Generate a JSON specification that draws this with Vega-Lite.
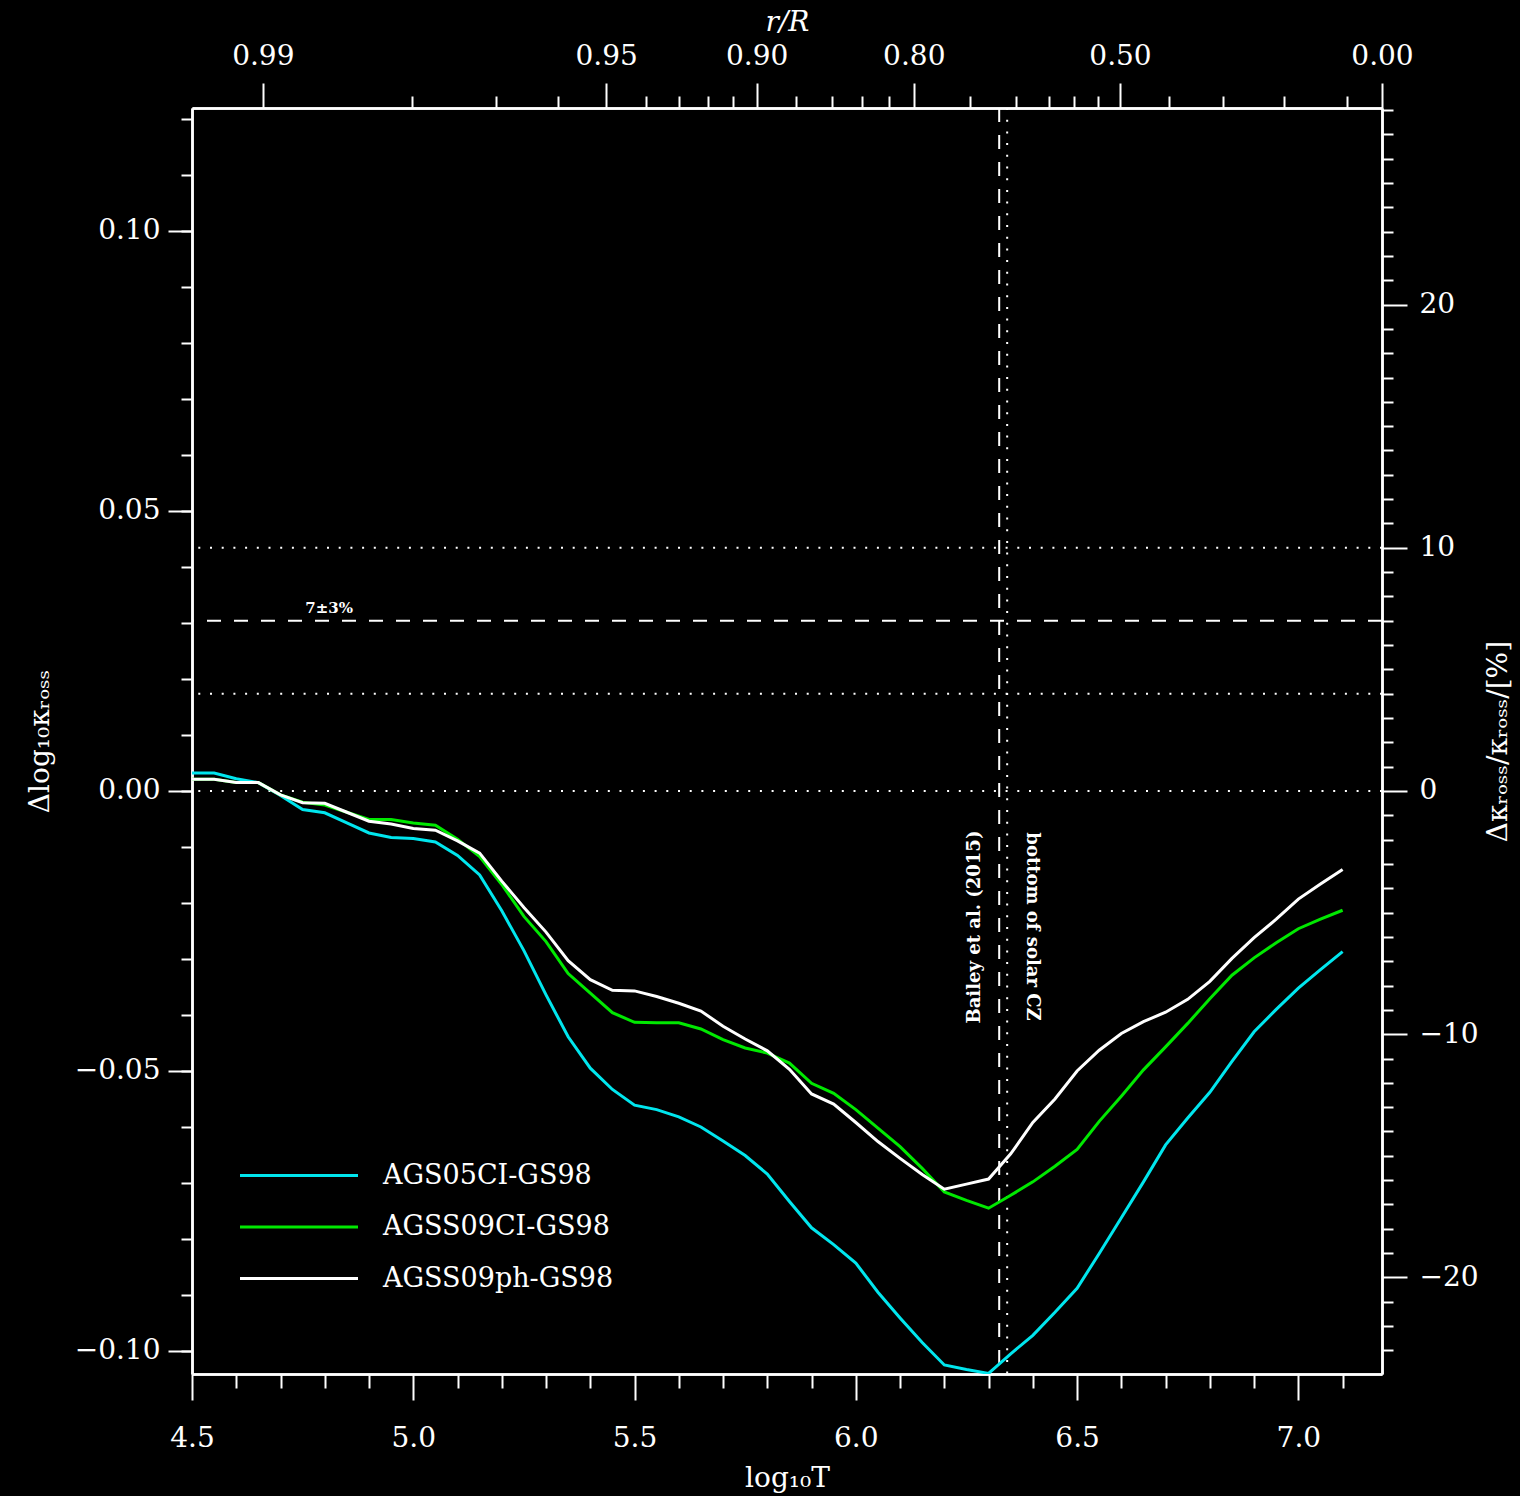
{
"$schema": "https://vega.github.io/schema/vega-lite/v6.json",
"width": 1190, "height": 1266,
"autosize": {"type": "none"},
"padding": {"left": 192, "top": 108, "right": 138, "bottom": 122},
"background": "black",
"config": {
  "view": {"stroke": null},
  "axis": {"grid": false, "domainColor": "white", "domainWidth": 2.5, "tickColor": "white", "tickWidth": 2, "labelColor": "white", "titleColor": "white", "labelFont": "DejaVu Serif", "titleFont": "DejaVu Serif", "labelFontSize": 28, "titleFontSize": 28, "titleFontWeight": "normal", "labelFlush": false, "labelOverlap": false}
},
"datasets": {
  "curves": [
{"logT":4.50,"series":"AGS05CI-GS98","dlogk":0.0032},{"logT":4.55,"series":"AGS05CI-GS98","dlogk":0.0032},{"logT":4.60,"series":"AGS05CI-GS98","dlogk":0.0022},{"logT":4.65,"series":"AGS05CI-GS98","dlogk":0.0015},{"logT":4.70,"series":"AGS05CI-GS98","dlogk":-0.0008},{"logT":4.75,"series":"AGS05CI-GS98","dlogk":-0.0033},{"logT":4.80,"series":"AGS05CI-GS98","dlogk":-0.0039},{"logT":4.85,"series":"AGS05CI-GS98","dlogk":-0.0057},{"logT":4.90,"series":"AGS05CI-GS98","dlogk":-0.0075},{"logT":4.95,"series":"AGS05CI-GS98","dlogk":-0.0083},{"logT":5.00,"series":"AGS05CI-GS98","dlogk":-0.0085},{"logT":5.05,"series":"AGS05CI-GS98","dlogk":-0.0091},{"logT":5.10,"series":"AGS05CI-GS98","dlogk":-0.0115},{"logT":5.15,"series":"AGS05CI-GS98","dlogk":-0.0150},{"logT":5.20,"series":"AGS05CI-GS98","dlogk":-0.0214},{"logT":5.25,"series":"AGS05CI-GS98","dlogk":-0.0285},{"logT":5.30,"series":"AGS05CI-GS98","dlogk":-0.0364},{"logT":5.35,"series":"AGS05CI-GS98","dlogk":-0.0439},{"logT":5.40,"series":"AGS05CI-GS98","dlogk":-0.0495},{"logT":5.45,"series":"AGS05CI-GS98","dlogk":-0.0533},{"logT":5.50,"series":"AGS05CI-GS98","dlogk":-0.0561},{"logT":5.55,"series":"AGS05CI-GS98","dlogk":-0.0569},{"logT":5.60,"series":"AGS05CI-GS98","dlogk":-0.0582},{"logT":5.65,"series":"AGS05CI-GS98","dlogk":-0.0600},{"logT":5.70,"series":"AGS05CI-GS98","dlogk":-0.0625},{"logT":5.75,"series":"AGS05CI-GS98","dlogk":-0.0651},{"logT":5.80,"series":"AGS05CI-GS98","dlogk":-0.0684},{"logT":5.85,"series":"AGS05CI-GS98","dlogk":-0.0733},{"logT":5.90,"series":"AGS05CI-GS98","dlogk":-0.0780},{"logT":5.95,"series":"AGS05CI-GS98","dlogk":-0.0810},{"logT":6.00,"series":"AGS05CI-GS98","dlogk":-0.0843},{"logT":6.05,"series":"AGS05CI-GS98","dlogk":-0.0895},{"logT":6.10,"series":"AGS05CI-GS98","dlogk":-0.0941},{"logT":6.15,"series":"AGS05CI-GS98","dlogk":-0.0985},{"logT":6.20,"series":"AGS05CI-GS98","dlogk":-0.1025},{"logT":6.25,"series":"AGS05CI-GS98","dlogk":-0.1033},{"logT":6.30,"series":"AGS05CI-GS98","dlogk":-0.1040},{"logT":6.35,"series":"AGS05CI-GS98","dlogk":-0.1005},{"logT":6.40,"series":"AGS05CI-GS98","dlogk":-0.0972},{"logT":6.45,"series":"AGS05CI-GS98","dlogk":-0.0931},{"logT":6.50,"series":"AGS05CI-GS98","dlogk":-0.0888},{"logT":6.55,"series":"AGS05CI-GS98","dlogk":-0.0826},{"logT":6.60,"series":"AGS05CI-GS98","dlogk":-0.0762},{"logT":6.65,"series":"AGS05CI-GS98","dlogk":-0.0698},{"logT":6.70,"series":"AGS05CI-GS98","dlogk":-0.0632},{"logT":6.75,"series":"AGS05CI-GS98","dlogk":-0.0584},{"logT":6.80,"series":"AGS05CI-GS98","dlogk":-0.0538},{"logT":6.85,"series":"AGS05CI-GS98","dlogk":-0.0483},{"logT":6.90,"series":"AGS05CI-GS98","dlogk":-0.0430},{"logT":6.95,"series":"AGS05CI-GS98","dlogk":-0.0390},{"logT":7.00,"series":"AGS05CI-GS98","dlogk":-0.0352},{"logT":7.05,"series":"AGS05CI-GS98","dlogk":-0.0319},{"logT":7.10,"series":"AGS05CI-GS98","dlogk":-0.0287},
{"logT":4.50,"series":"AGSS09CI-GS98","dlogk":0.0021},{"logT":4.55,"series":"AGSS09CI-GS98","dlogk":0.0021},{"logT":4.60,"series":"AGSS09CI-GS98","dlogk":0.0015},{"logT":4.65,"series":"AGSS09CI-GS98","dlogk":0.0015},{"logT":4.70,"series":"AGSS09CI-GS98","dlogk":-0.0007},{"logT":4.75,"series":"AGSS09CI-GS98","dlogk":-0.0020},{"logT":4.80,"series":"AGSS09CI-GS98","dlogk":-0.0025},{"logT":4.85,"series":"AGSS09CI-GS98","dlogk":-0.0038},{"logT":4.90,"series":"AGSS09CI-GS98","dlogk":-0.0051},{"logT":4.95,"series":"AGSS09CI-GS98","dlogk":-0.0051},{"logT":5.00,"series":"AGSS09CI-GS98","dlogk":-0.0057},{"logT":5.05,"series":"AGSS09CI-GS98","dlogk":-0.0061},{"logT":5.10,"series":"AGSS09CI-GS98","dlogk":-0.0086},{"logT":5.15,"series":"AGSS09CI-GS98","dlogk":-0.0117},{"logT":5.20,"series":"AGSS09CI-GS98","dlogk":-0.0167},{"logT":5.25,"series":"AGSS09CI-GS98","dlogk":-0.0224},{"logT":5.30,"series":"AGSS09CI-GS98","dlogk":-0.0269},{"logT":5.35,"series":"AGSS09CI-GS98","dlogk":-0.0326},{"logT":5.40,"series":"AGSS09CI-GS98","dlogk":-0.0361},{"logT":5.45,"series":"AGSS09CI-GS98","dlogk":-0.0396},{"logT":5.50,"series":"AGSS09CI-GS98","dlogk":-0.0413},{"logT":5.55,"series":"AGSS09CI-GS98","dlogk":-0.0414},{"logT":5.60,"series":"AGSS09CI-GS98","dlogk":-0.0414},{"logT":5.65,"series":"AGSS09CI-GS98","dlogk":-0.0425},{"logT":5.70,"series":"AGSS09CI-GS98","dlogk":-0.0444},{"logT":5.75,"series":"AGSS09CI-GS98","dlogk":-0.0459},{"logT":5.80,"series":"AGSS09CI-GS98","dlogk":-0.0468},{"logT":5.85,"series":"AGSS09CI-GS98","dlogk":-0.0486},{"logT":5.90,"series":"AGSS09CI-GS98","dlogk":-0.0522},{"logT":5.95,"series":"AGSS09CI-GS98","dlogk":-0.0540},{"logT":6.00,"series":"AGSS09CI-GS98","dlogk":-0.0569},{"logT":6.05,"series":"AGSS09CI-GS98","dlogk":-0.0602},{"logT":6.10,"series":"AGSS09CI-GS98","dlogk":-0.0635},{"logT":6.15,"series":"AGSS09CI-GS98","dlogk":-0.0674},{"logT":6.20,"series":"AGSS09CI-GS98","dlogk":-0.0716},{"logT":6.25,"series":"AGSS09CI-GS98","dlogk":-0.0731},{"logT":6.30,"series":"AGSS09CI-GS98","dlogk":-0.0745},{"logT":6.35,"series":"AGSS09CI-GS98","dlogk":-0.0722},{"logT":6.40,"series":"AGSS09CI-GS98","dlogk":-0.0698},{"logT":6.45,"series":"AGSS09CI-GS98","dlogk":-0.0670},{"logT":6.50,"series":"AGSS09CI-GS98","dlogk":-0.0640},{"logT":6.55,"series":"AGSS09CI-GS98","dlogk":-0.0590},{"logT":6.60,"series":"AGSS09CI-GS98","dlogk":-0.0545},{"logT":6.65,"series":"AGSS09CI-GS98","dlogk":-0.0498},{"logT":6.70,"series":"AGSS09CI-GS98","dlogk":-0.0457},{"logT":6.75,"series":"AGSS09CI-GS98","dlogk":-0.0415},{"logT":6.80,"series":"AGSS09CI-GS98","dlogk":-0.0371},{"logT":6.85,"series":"AGSS09CI-GS98","dlogk":-0.0329},{"logT":6.90,"series":"AGSS09CI-GS98","dlogk":-0.0298},{"logT":6.95,"series":"AGSS09CI-GS98","dlogk":-0.0271},{"logT":7.00,"series":"AGSS09CI-GS98","dlogk":-0.0246},{"logT":7.05,"series":"AGSS09CI-GS98","dlogk":-0.0229},{"logT":7.10,"series":"AGSS09CI-GS98","dlogk":-0.0213},
{"logT":4.50,"series":"AGSS09ph-GS98","dlogk":0.0021},{"logT":4.55,"series":"AGSS09ph-GS98","dlogk":0.0021},{"logT":4.60,"series":"AGSS09ph-GS98","dlogk":0.0015},{"logT":4.65,"series":"AGSS09ph-GS98","dlogk":0.0015},{"logT":4.70,"series":"AGSS09ph-GS98","dlogk":-0.0007},{"logT":4.75,"series":"AGSS09ph-GS98","dlogk":-0.0021},{"logT":4.80,"series":"AGSS09ph-GS98","dlogk":-0.0022},{"logT":4.85,"series":"AGSS09ph-GS98","dlogk":-0.0038},{"logT":4.90,"series":"AGSS09ph-GS98","dlogk":-0.0054},{"logT":4.95,"series":"AGSS09ph-GS98","dlogk":-0.0059},{"logT":5.00,"series":"AGSS09ph-GS98","dlogk":-0.0067},{"logT":5.05,"series":"AGSS09ph-GS98","dlogk":-0.0070},{"logT":5.10,"series":"AGSS09ph-GS98","dlogk":-0.0089},{"logT":5.15,"series":"AGSS09ph-GS98","dlogk":-0.0111},{"logT":5.20,"series":"AGSS09ph-GS98","dlogk":-0.0161},{"logT":5.25,"series":"AGSS09ph-GS98","dlogk":-0.0208},{"logT":5.30,"series":"AGSS09ph-GS98","dlogk":-0.0252},{"logT":5.35,"series":"AGSS09ph-GS98","dlogk":-0.0303},{"logT":5.40,"series":"AGSS09ph-GS98","dlogk":-0.0337},{"logT":5.45,"series":"AGSS09ph-GS98","dlogk":-0.0356},{"logT":5.50,"series":"AGSS09ph-GS98","dlogk":-0.0357},{"logT":5.55,"series":"AGSS09ph-GS98","dlogk":-0.0367},{"logT":5.60,"series":"AGSS09ph-GS98","dlogk":-0.0379},{"logT":5.65,"series":"AGSS09ph-GS98","dlogk":-0.0393},{"logT":5.70,"series":"AGSS09ph-GS98","dlogk":-0.0420},{"logT":5.75,"series":"AGSS09ph-GS98","dlogk":-0.0443},{"logT":5.80,"series":"AGSS09ph-GS98","dlogk":-0.0464},{"logT":5.85,"series":"AGSS09ph-GS98","dlogk":-0.0497},{"logT":5.90,"series":"AGSS09ph-GS98","dlogk":-0.0541},{"logT":5.95,"series":"AGSS09ph-GS98","dlogk":-0.0559},{"logT":6.00,"series":"AGSS09ph-GS98","dlogk":-0.0592},{"logT":6.05,"series":"AGSS09ph-GS98","dlogk":-0.0626},{"logT":6.10,"series":"AGSS09ph-GS98","dlogk":-0.0656},{"logT":6.15,"series":"AGSS09ph-GS98","dlogk":-0.0685},{"logT":6.20,"series":"AGSS09ph-GS98","dlogk":-0.0711},{"logT":6.25,"series":"AGSS09ph-GS98","dlogk":-0.0702},{"logT":6.30,"series":"AGSS09ph-GS98","dlogk":-0.0693},{"logT":6.35,"series":"AGSS09ph-GS98","dlogk":-0.0648},{"logT":6.40,"series":"AGSS09ph-GS98","dlogk":-0.0592},{"logT":6.45,"series":"AGSS09ph-GS98","dlogk":-0.0550},{"logT":6.50,"series":"AGSS09ph-GS98","dlogk":-0.0500},{"logT":6.55,"series":"AGSS09ph-GS98","dlogk":-0.0463},{"logT":6.60,"series":"AGSS09ph-GS98","dlogk":-0.0433},{"logT":6.65,"series":"AGSS09ph-GS98","dlogk":-0.0412},{"logT":6.70,"series":"AGSS09ph-GS98","dlogk":-0.0395},{"logT":6.75,"series":"AGSS09ph-GS98","dlogk":-0.0372},{"logT":6.80,"series":"AGSS09ph-GS98","dlogk":-0.0340},{"logT":6.85,"series":"AGSS09ph-GS98","dlogk":-0.0299},{"logT":6.90,"series":"AGSS09ph-GS98","dlogk":-0.0262},{"logT":6.95,"series":"AGSS09ph-GS98","dlogk":-0.0229},{"logT":7.00,"series":"AGSS09ph-GS98","dlogk":-0.0193},{"logT":7.05,"series":"AGSS09ph-GS98","dlogk":-0.0166},{"logT":7.10,"series":"AGSS09ph-GS98","dlogk":-0.0140}
  ],
  "hlines": [
    {"pct": 10, "dlogk": 0.043429, "style": "dotted"},
    {"pct": 7, "dlogk": 0.030401, "style": "dashed"},
    {"pct": 4, "dlogk": 0.017372, "style": "dotted"},
    {"pct": 0, "dlogk": 0.0, "style": "dotted"}
  ],
  "vlines": [
    {"what": "Bailey et al. (2015)", "logT": 6.324, "style": "dashed"},
    {"what": "bottom of solar CZ", "logT": 6.342, "style": "dotted"}
  ]
},
"layer": [
  {
    "data": {"name": "hlines"},
    "mark": {"type": "rule", "color": "white", "strokeWidth": 2},
    "encoding": {
      "y": {"field": "dlogk", "type": "quantitative", "scale": {"domain": [-0.10411, 0.12196], "nice": false, "zero": false}, "axis": null},
      "strokeDash": {"field": "style", "type": "nominal", "scale": {"domain": ["dotted", "dashed"], "range": [[2, 9.7], [14, 13]]}, "legend": null}
    }
  },
  {
    "data": {"name": "vlines"},
    "mark": {"type": "rule", "color": "white", "strokeWidth": 2},
    "encoding": {
      "x": {"field": "logT", "type": "quantitative", "scale": {"domain": [4.5, 7.189], "nice": false, "zero": false}, "axis": null},
      "strokeDash": {"field": "style", "type": "nominal", "scale": {"domain": ["dotted", "dashed"], "range": [[2, 9.7], [14, 13]]}, "legend": null}
    }
  },
  {
    "data": {"values": [{"label": "7±3%", "logT": 4.81, "dlogk": 0.0318}]},
    "mark": {"type": "text", "color": "white", "font": "DejaVu Serif", "fontWeight": "bold", "fontSize": 15, "align": "center", "baseline": "alphabetic"},
    "encoding": {
      "x": {"field": "logT", "type": "quantitative", "scale": {"domain": [4.5, 7.189], "nice": false, "zero": false}, "axis": null},
      "y": {"field": "dlogk", "type": "quantitative", "scale": {"domain": [-0.10411, 0.12196], "nice": false, "zero": false}, "axis": null},
      "text": {"field": "label"}
    }
  },
  {
    "data": {"values": [{"label": "Bailey et al. (2015)", "logT": 6.270, "dlogk": -0.0243}]},
    "mark": {"type": "text", "color": "white", "font": "DejaVu Serif", "fontWeight": "bold", "fontSize": 18, "align": "center", "baseline": "middle", "angle": 270},
    "encoding": {
      "x": {"field": "logT", "type": "quantitative", "scale": {"domain": [4.5, 7.189], "nice": false, "zero": false}, "axis": null},
      "y": {"field": "dlogk", "type": "quantitative", "scale": {"domain": [-0.10411, 0.12196], "nice": false, "zero": false}, "axis": null},
      "text": {"field": "label"}
    }
  },
  {
    "data": {"values": [{"label": "bottom of solar CZ", "logT": 6.398, "dlogk": -0.0242}]},
    "mark": {"type": "text", "color": "white", "font": "DejaVu Serif", "fontWeight": "bold", "fontSize": 18, "align": "center", "baseline": "middle", "angle": 90},
    "encoding": {
      "x": {"field": "logT", "type": "quantitative", "scale": {"domain": [4.5, 7.189], "nice": false, "zero": false}, "axis": null},
      "y": {"field": "dlogk", "type": "quantitative", "scale": {"domain": [-0.10411, 0.12196], "nice": false, "zero": false}, "axis": null},
      "text": {"field": "label"}
    }
  },
  {
    "data": {"name": "curves"},
    "mark": {"type": "line", "strokeWidth": 3, "clip": true},
    "encoding": {
      "x": {"field": "logT", "type": "quantitative", "scale": {"domain": [4.5, 7.189], "nice": false, "zero": false},
            "axis": {"orient": "bottom", "values": [4.5, 5.0, 5.5, 6.0, 6.5, 7.0], "format": ".1f", "tickSize": 26, "labelPadding": 24, "title": "log₁₀T", "titlePadding": 12}},
      "y": {"field": "dlogk", "type": "quantitative", "scale": {"domain": [-0.10411, 0.12196], "nice": false, "zero": false},
            "axis": {"orient": "left", "values": [-0.1, -0.05, 0, 0.05, 0.1], "format": ".2f", "tickSize": 24, "labelPadding": 8, "title": "Δlog₁₀κᵣₒₛₛ", "titlePadding": 20}},
      "color": {"field": "series", "type": "nominal",
                "scale": {"domain": ["AGS05CI-GS98", "AGSS09CI-GS98", "AGSS09ph-GS98"], "range": ["#00e6ee", "#00e800", "#ffffff"]},
                "legend": {"orient": "none", "legendX": 93.5, "legendY": 1054, "title": null, "symbolType": "M-5.9,0H5.9", "symbolSize": 400, "symbolStrokeWidth": 3, "labelFont": "DejaVu Serif", "labelFontSize": 27, "labelColor": "white", "labelOffset": 70.5, "rowPadding": 23.5, "padding": 0, "labelLimit": 500}}
    }
  },
  {
    "data": {"name": "curves"},
    "mark": {"type": "point", "opacity": 0},
    "encoding": {
      "x": {"field": "logT", "type": "quantitative", "scale": {"domain": [4.5, 7.189], "nice": false, "zero": false},
            "axis": {"orient": "bottom", "values": [4.6, 4.7, 4.8, 4.9, 5.1, 5.2, 5.3, 5.4, 5.6, 5.7, 5.8, 5.9, 6.1, 6.2, 6.3, 6.4, 6.6, 6.7, 6.8, 6.9, 7.1], "labels": false, "tickSize": 14, "title": null}},
      "y": {"field": "dlogk", "type": "quantitative", "scale": {"domain": [-0.10411, 0.12196], "nice": false, "zero": false},
            "axis": {"orient": "left", "values": [-0.1, -0.09, -0.08, -0.07, -0.06, -0.05, -0.04, -0.03, -0.02, -0.01, 0, 0.01, 0.02, 0.03, 0.04, 0.05, 0.06, 0.07, 0.08, 0.09, 0.1, 0.11, 0.12], "labels": false, "tickSize": 11, "title": null}}
    }
  },
  {
    "data": {"name": "curves"},
    "mark": {"type": "point", "opacity": 0},
    "encoding": {
      "x": {"field": "logT", "type": "quantitative", "scale": {"domain": [4.5, 7.189], "nice": false, "zero": false},
            "axis": {"orient": "top", "values": [4.660, 5.436, 5.776, 6.131, 6.597, 7.189], "labelExpr": "datum.value < 5 ? '0.99' : datum.value < 5.6 ? '0.95' : datum.value < 6 ? '0.90' : datum.value < 6.4 ? '0.80' : datum.value < 7 ? '0.50' : '0.00'", "tickSize": 25, "labelPadding": 13, "title": "r/R", "titleFontStyle": "italic", "titlePadding": 6}},
      "y": {"field": "dlogk", "type": "quantitative", "scale": {"domain": [-0.10411, 0.12196], "nice": false, "zero": false},
            "axis": {"orient": "right", "values": [-0.086859, -0.043429, 0, 0.043429, 0.086859], "labelExpr": "format(datum.value * 230.2585, '.0f')", "tickSize": 25, "labelPadding": 12, "title": "Δκᵣₒₛₛ/κᵣₒₛₛ/[%]", "titleAngle": 270, "titleBaseline": "top", "titlePadding": 6}}
    }
  },
  {
    "data": {"name": "curves"},
    "mark": {"type": "point", "opacity": 0},
    "encoding": {
      "x": {"field": "logT", "type": "quantitative", "scale": {"domain": [4.5, 7.189], "nice": false, "zero": false},
            "axis": {"orient": "top", "values": [4.996, 5.188, 5.326, 5.527, 5.601, 5.666, 5.722, 5.865, 5.946, 6.015, 6.076, 6.258, 6.362, 6.436, 6.493, 6.547, 6.707, 6.830, 6.968, 7.111], "labels": false, "tickSize": 12, "title": null}},
      "y": {"field": "dlogk", "type": "quantitative", "scale": {"domain": [-0.10411, 0.12196], "nice": false, "zero": false},
            "axis": {"orient": "right", "values": [-0.099888, -0.095544, -0.091201, -0.082515, -0.078172, -0.073829, -0.069487, -0.065144, -0.060801, -0.056458, -0.052115, -0.047772, -0.039086, -0.034743, -0.030401, -0.026058, -0.021715, -0.017372, -0.013029, -0.008686, -0.004343, 0.004343, 0.008686, 0.013029, 0.017372, 0.021715, 0.026058, 0.030401, 0.034743, 0.039086, 0.047772, 0.052115, 0.056458, 0.060801, 0.065144, 0.069487, 0.073829, 0.078172, 0.082515, 0.091201, 0.095544, 0.099888, 0.104230, 0.108573, 0.112916, 0.117258, 0.121601], "labels": false, "tickSize": 11, "title": null}}
    }
  }
],
"resolve": {"axis": {"x": "independent", "y": "independent"}}
}
